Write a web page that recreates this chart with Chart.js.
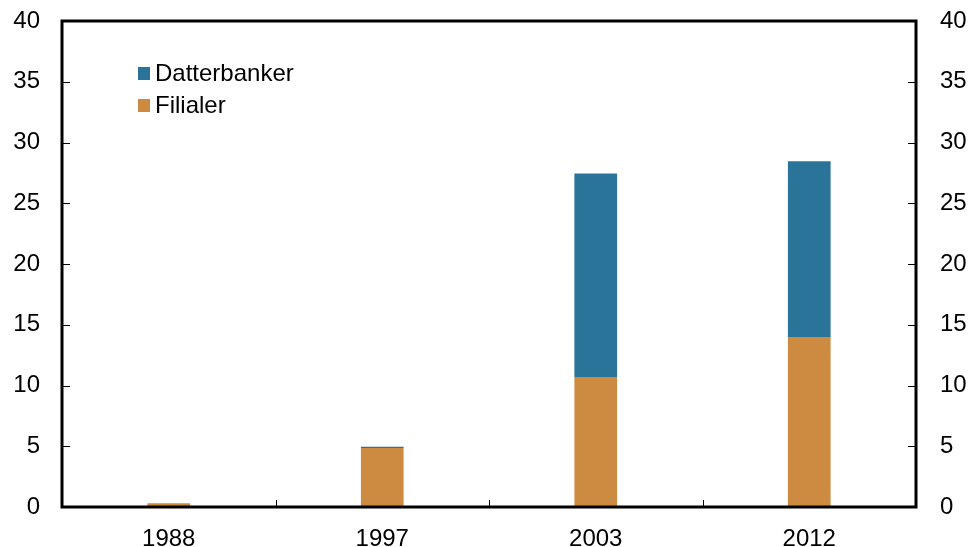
<!DOCTYPE html>
<html><head><meta charset="utf-8">
<script src="https://cdn.jsdelivr.net/npm/chart.js@4/dist/chart.umd.min.js"></script>
<style>html,body{margin:0;padding:0;background:#fff}#wrap{width:971px;height:547px}</style>
</head><body><div id="wrap"><canvas id="c" width="971" height="547"></canvas></div>
<script>
const categories = ['1988','1997','2003','2012'];
const filialer = [0.3, 4.85, 10.7, 14.0];
const datterbanker = [0, 0.1, 16.75, 14.45];
const yTicks = [0,5,10,15,20,25,30,35,40];

const FONT = {family: 'Liberation Sans, Arial, sans-serif', size: 24};

const framePlugin = {
  id: 'frame',
  afterDatasetsDraw(chart) {
    const {ctx, chartArea: a, scales: {x, y}} = chart;
    ctx.save();
    ctx.strokeStyle = '#000';
    ctx.lineWidth = 1;
    for (let i = 1; i < categories.length; i++) {
      const px = Math.round((x.getPixelForValue(i - 1) + x.getPixelForValue(i)) / 2) + 0.5;
      ctx.beginPath(); ctx.moveTo(px, a.bottom); ctx.lineTo(px, a.bottom - 7); ctx.stroke();
    }
    yTicks.forEach(v => {
      const py = Math.round(y.getPixelForValue(v)) + 0.5;
      ctx.beginPath(); ctx.moveTo(a.left, py); ctx.lineTo(a.left + 8, py); ctx.stroke();
      ctx.beginPath(); ctx.moveTo(a.right, py); ctx.lineTo(a.right - 8, py); ctx.stroke();
    });
    ctx.lineWidth = 3;
    ctx.strokeRect(a.left, a.top, a.right - a.left, a.bottom - a.top);
    // legend
    const items = [chart.data.datasets[1], chart.data.datasets[0]];
    ctx.font = '24px ' + FONT.family;
    ctx.textBaseline = 'middle';
    items.forEach((ds, i) => {
      const yy = 73 + i * 32;
      ctx.fillStyle = ds.backgroundColor;
      ctx.fillRect(138, yy - 6, 12, 13);
      ctx.fillStyle = '#000';
      ctx.fillText(ds.label, 155, yy + 1);
    });
    ctx.restore();
  }
};

function noPad(s) { s.paddingTop = 0; s.paddingBottom = 0; s.paddingLeft = 0; s.paddingRight = 0; }

new Chart(document.getElementById('c'), {
  type: 'bar',
  data: {
    labels: categories,
    datasets: [
      {label: 'Filialer', data: filialer, backgroundColor: '#cd8b42', barPercentage: 0.2, categoryPercentage: 1},
      {label: 'Datterbanker', data: datterbanker, backgroundColor: '#2a7399', barPercentage: 0.2, categoryPercentage: 1}
    ]
  },
  options: {
    responsive: false, animation: false,
    layout: {padding: {top: 21, left: 0, right: 0, bottom: 0}},
    plugins: {legend: {display: false}, tooltip: {enabled: false}},
    scales: {
      x: {stacked: true, grid: {display: false}, border: {display: false},
          ticks: {color: '#000', font: FONT, padding: 10},
          afterFit(s) { s.height = 40; noPad(s); }},
      y: {stacked: true, min: 0, max: 40, position: 'left',
          grid: {display: false}, border: {display: false},
          afterBuildTicks(s) { s.ticks = yTicks.map(v => ({value: v})); },
          ticks: {color: '#000', font: FONT, padding: 14},
          afterFit(s) { s.width = 62; noPad(s); }},
      y2: {min: 0, max: 40, position: 'right',
          grid: {display: false}, border: {display: false},
          afterBuildTicks(s) { s.ticks = yTicks.map(v => ({value: v})); },
          ticks: {color: '#000', font: FONT, padding: 16},
          afterFit(s) { s.width = 55; noPad(s); }}
    }
  },
  plugins: [framePlugin]
});
</script></body></html>
